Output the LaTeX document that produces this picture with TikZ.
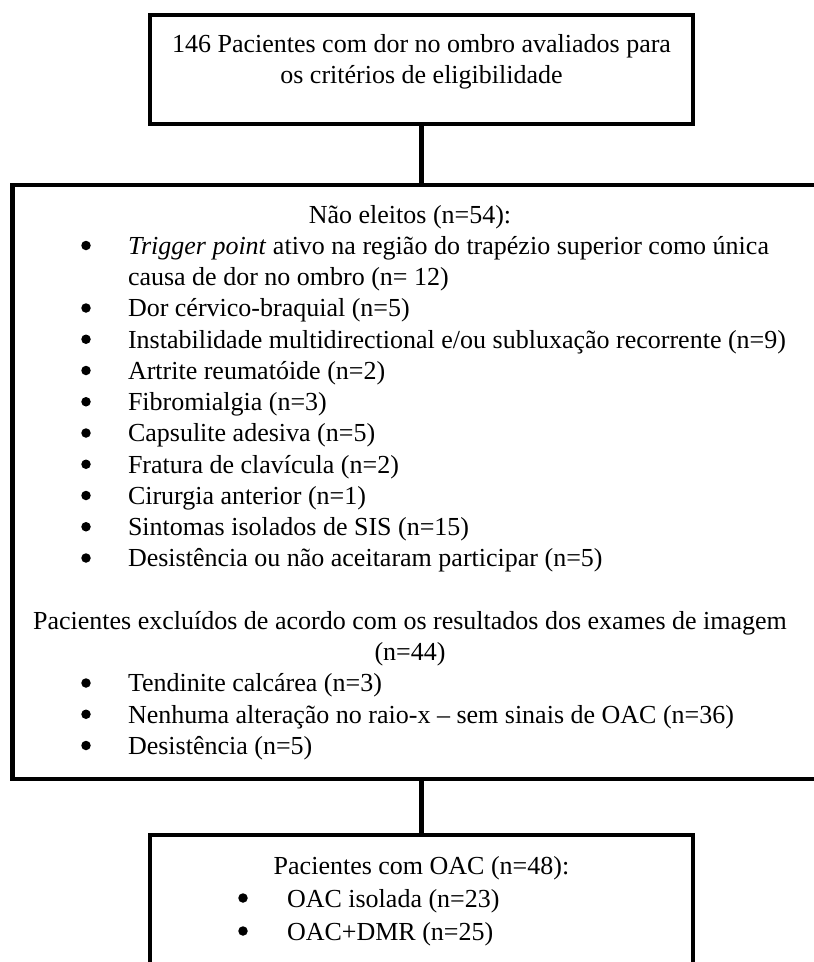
\documentclass[tikz,border=0pt]{standalone}
\usepackage{fontspec}
\setmainfont{Liberation Serif}
\begin{document}
\begin{tikzpicture}[x=1pt,y=1pt,
  frame/.style={draw=black, line width=4.5pt, inner sep=0pt, outer sep=0pt, rectangle},
  link/.style={draw=black, line width=4.5pt},
  txt/.style={inner sep=0pt, outer sep=0pt, font=\fontsize{26}{31.25}\selectfont},
  dot/.style={circle, fill=black, inner sep=0pt, minimum size=9.5pt},
  ]
\useasboundingbox (0,0) rectangle (814,-962);
\clip (0,0) rectangle (814,-962);
% boxes
\node[frame, minimum width=543, minimum height=109, anchor=north west] (topbox) at (150,-15) {};
\node[frame, minimum width=818, minimum height=594, anchor=north west] (midbox) at (12.5,-185) {};
\node[frame, minimum width=543, minimum height=200, anchor=north west] (botbox) at (150,-835) {};
% connectors
\draw[link] (topbox.south) -- (midbox.north);
\draw[link] (midbox.south) -- (botbox.north);
% top text
\node[txt, anchor=base] (t1) at (421.5,-52) {146 Pacientes com dor no ombro avaliados para};
\node[txt, anchor=base] (t2) at (421.5,-83) {os critérios de eligibilidade};
% middle text
\node[txt, anchor=base] (m0) at (410,-223) {Não eleitos (n=54):};
\node[dot] (d1) at (86,-245.5) {};
\node[txt, anchor=base west] (m1) at (128,-254.25) {\textit{Trigger point} ativo na região do trapézio superior como única};
\node[txt, anchor=base west] (m2) at (128,-285.5) {causa de dor no ombro (n= 12)};
\node[dot] (d3) at (86,-308) {};
\node[txt, anchor=base west] (m3) at (128,-316.75) {Dor cérvico-braquial (n=5)};
\node[dot] (d4) at (86,-339.25) {};
\node[txt, anchor=base west] (m4) at (128,-348) {Instabilidade multidirectional e/ou subluxação recorrente (n=9)};
\node[dot] (d5) at (86,-370.5) {};
\node[txt, anchor=base west] (m5) at (128,-379.25) {Artrite reumatóide (n=2)};
\node[dot] (d6) at (86,-401.75) {};
\node[txt, anchor=base west] (m6) at (128,-410.5) {Fibromialgia (n=3)};
\node[dot] (d7) at (86,-433) {};
\node[txt, anchor=base west] (m7) at (128,-441.75) {Capsulite adesiva (n=5)};
\node[dot] (d8) at (86,-464.25) {};
\node[txt, anchor=base west] (m8) at (128,-473) {Fratura de clavícula (n=2)};
\node[dot] (d9) at (86,-495.5) {};
\node[txt, anchor=base west] (m9) at (128,-504.25) {Cirurgia anterior (n=1)};
\node[dot] (d10) at (86,-526.75) {};
\node[txt, anchor=base west] (m10) at (128,-535.5) {Sintomas isolados de SIS (n=15)};
\node[dot] (d11) at (86,-558) {};
\node[txt, anchor=base west] (m11) at (128,-566.75) {Desistência ou não aceitaram participar (n=5)};
\node[txt, anchor=base] (m13) at (410,-629.25) {Pacientes excluídos de acordo com os resultados dos exames de imagem};
\node[txt, anchor=base] (m14) at (410,-660.5) {(n=44)};
\node[dot] (d15) at (86,-683) {};
\node[txt, anchor=base west] (m15) at (128,-691.75) {Tendinite calcárea (n=3)};
\node[dot] (d16) at (86,-714.25) {};
\node[txt, anchor=base west] (m16) at (128,-723) {Nenhuma alteração no raio-x – sem sinais de OAC (n=36)};
\node[dot] (d17) at (86,-745.5) {};
\node[txt, anchor=base west] (m17) at (128,-754.25) {Desistência (n=5)};
% bottom text
\node[txt, anchor=base] (b0) at (421.5,-874) {Pacientes com OAC (n=48):};
\node[dot] (e1) at (243,-898) {};
\node[txt, anchor=base west] (b1) at (287,-907) {OAC isolada (n=23)};
\node[dot] (e2) at (243,-931) {};
\node[txt, anchor=base west] (b2) at (287,-940) {OAC+DMR (n=25)};
\end{tikzpicture}
\end{document}
